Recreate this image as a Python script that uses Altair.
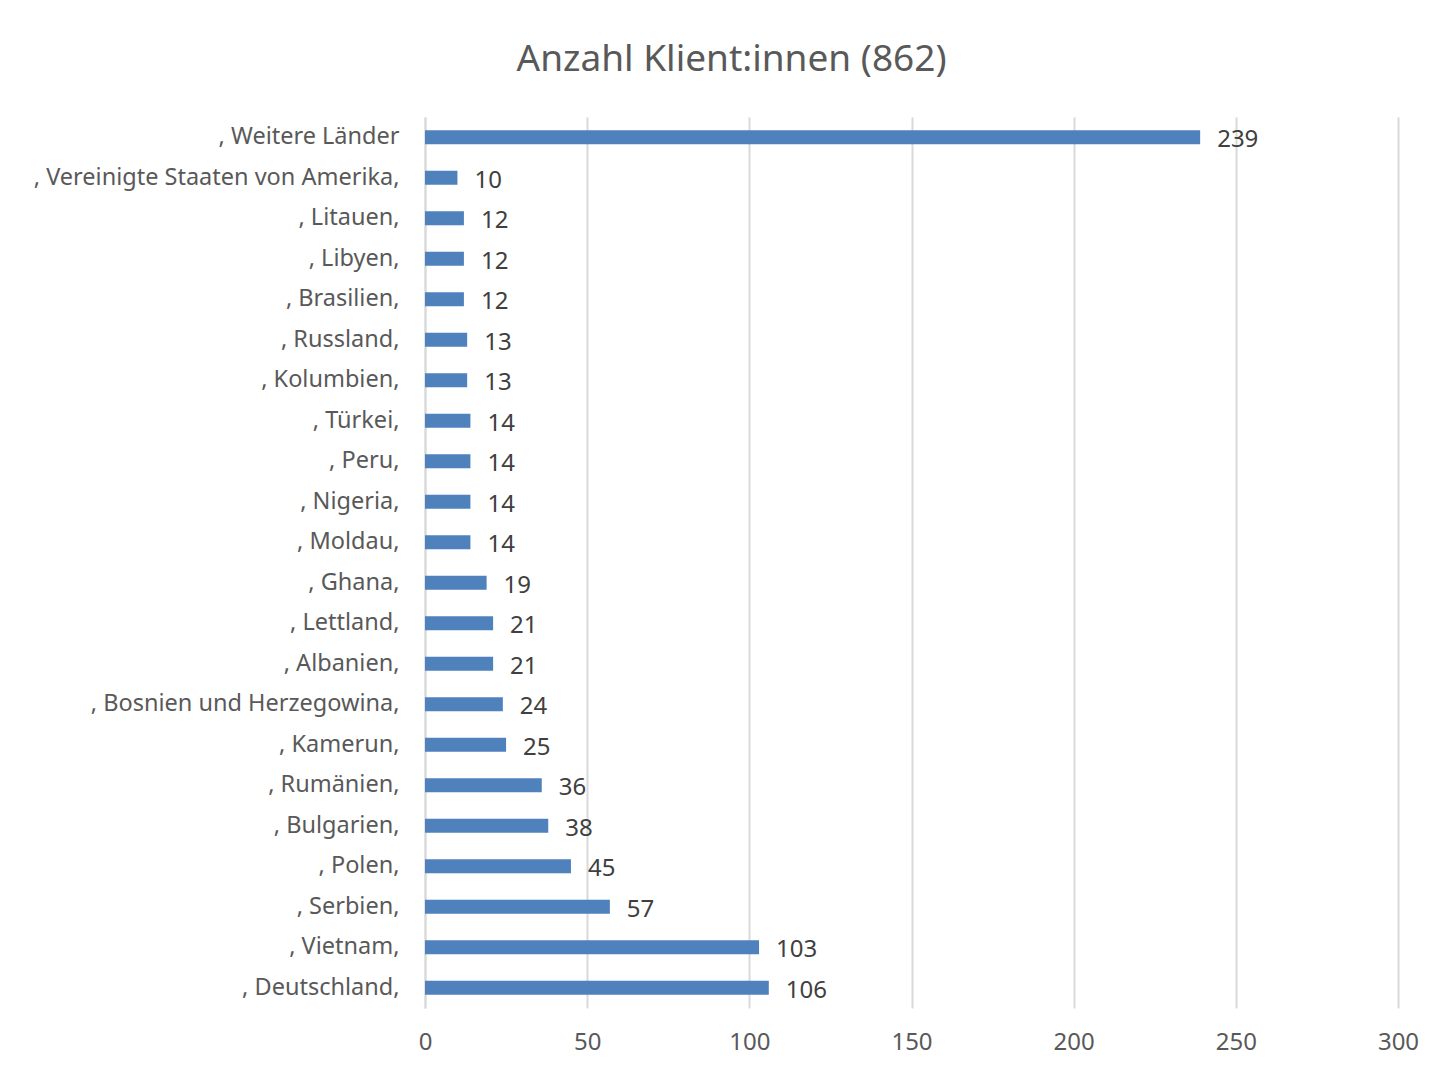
import altair as alt
import pandas as pd

countries = [", Weitere Länder", ", Vereinigte Staaten von Amerika,", ", Litauen,", ", Libyen,",
             ", Brasilien,", ", Russland,", ", Kolumbien,", ", Türkei,", ", Peru,", ", Nigeria,",
             ", Moldau,", ", Ghana,", ", Lettland,", ", Albanien,", ", Bosnien und Herzegowina,",
             ", Kamerun,", ", Rumänien,", ", Bulgarien,", ", Polen,", ", Serbien,", ", Vietnam,",
             ", Deutschland,"]
values = [239, 10, 12, 12, 12, 13, 13, 14, 14, 14, 14, 19, 21, 21, 24, 25, 36, 38, 45, 57, 103, 106]
x_ticks = [0, 50, 100, 150, 200, 250, 300]

df = pd.DataFrame({"land": countries, "anzahl": values})

FONT = "Noto Sans"
TEXT = "#595959"

y_enc = alt.Y("land:N", sort=countries, title=None,
              scale=alt.Scale(paddingInner=0.65, paddingOuter=0.325),
              axis=alt.Axis(labelFont=FONT, labelFontSize=23.5, labelColor=TEXT,
                            labelPadding=26, ticks=False, domainColor="#D9D9D9",
                            domainWidth=2, labelLimit=600))
x_enc = alt.X("anzahl:Q", title=None,
              scale=alt.Scale(domain=[0, 300], nice=False),
              axis=alt.Axis(values=x_ticks, labelFont=FONT, labelFontSize=24,
                            labelColor=TEXT, labelPadding=22, ticks=False, domain=False,
                            labelFlush=False, labelOverlap=False,
                            grid=True, gridColor="#D9D9D9", gridWidth=2))

bars = alt.Chart(df).mark_bar(color="#4F81BD").encode(x=x_enc, y=y_enc)
labels = alt.Chart(df).mark_text(align="left", baseline="middle", dx=17, dy=3,
                                  font=FONT, fontSize=24, color="#404040").encode(
    x="anzahl:Q", y=alt.Y("land:N", sort=countries), text="anzahl:Q")

chart = (bars + labels).properties(
    width=973, height=891,
    autosize=alt.AutoSizeParams(type="none"),
    padding={"left": 417, "top": 109, "right": 30, "bottom": 57},
    title=alt.TitleParams("Anzahl Klient:innen (862)", font=FONT, fontSize=37,
                          fontWeight="normal", color=TEXT, anchor="middle",
                          dx=-180, offset=38),
).configure_view(stroke=None)

chart.save("out.html", embed_options={"renderer": "svg", "actions": False})
